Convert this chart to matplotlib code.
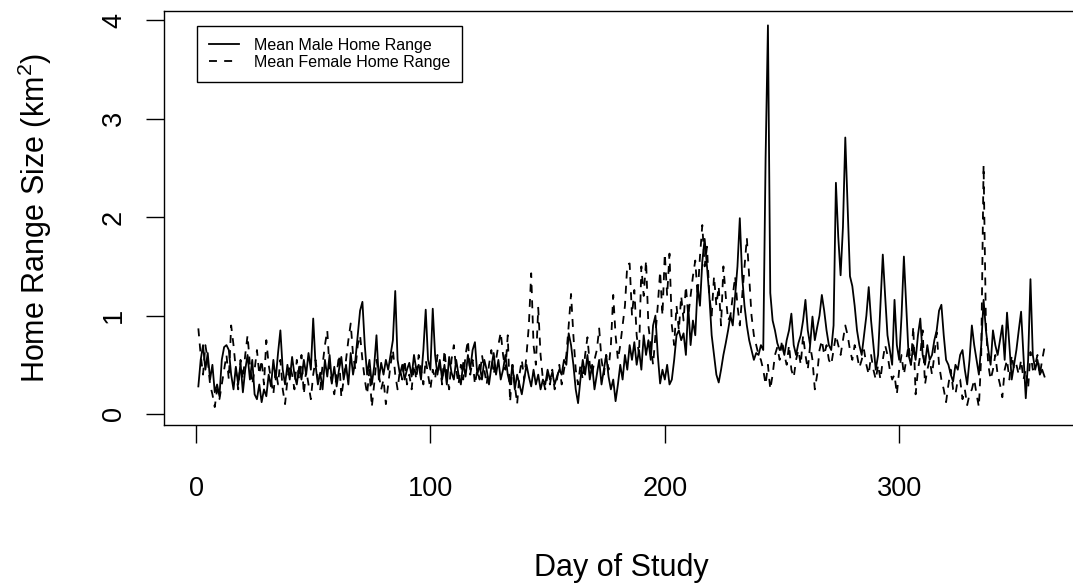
import matplotlib
matplotlib.use("Agg")
import matplotlib.pyplot as plt
import numpy as np

plt.rcParams['font.family'] = ['Liberation Sans', 'DejaVu Sans']
plt.rcParams['mathtext.default'] = 'regular'

male = [
    0.28, 0.55, 0.70, 0.45, 0.62, 0.35, 0.50, 0.22, 0.30, 0.18,
    0.55, 0.68, 0.70, 0.65, 0.40, 0.25, 0.48, 0.30, 0.52, 0.22,
    0.45, 0.60, 0.35, 0.55, 0.20, 0.15, 0.30, 0.12, 0.25, 0.18,
    0.40, 0.28, 0.55, 0.35, 0.62, 0.85, 0.45, 0.30, 0.50, 0.35,
    0.58, 0.40, 0.30, 0.48, 0.35, 0.55, 0.40, 0.62, 0.45, 0.97,
    0.50, 0.30, 0.42, 0.25, 0.55, 0.38, 0.60, 0.32, 0.48, 0.28,
    0.45, 0.58, 0.35, 0.50, 0.30, 0.62, 0.40, 0.55, 0.80, 1.05,
    1.14, 0.70, 0.40, 0.55, 0.30, 0.48, 0.80, 0.35, 0.52, 0.40,
    0.55, 0.45, 0.60, 0.75, 1.25, 0.55, 0.40, 0.50, 0.35, 0.45,
    0.52, 0.38, 0.60, 0.45, 0.50, 0.35, 0.65, 1.06, 0.55, 0.45,
    1.07, 0.60, 0.40, 0.55, 0.35, 0.50, 0.30, 0.58, 0.42, 0.35,
    0.55, 0.40, 0.30, 0.52, 0.38, 0.60, 0.45, 0.65, 0.73, 0.40,
    0.50, 0.35, 0.55, 0.45, 0.30, 0.48, 0.62, 0.40, 0.55, 0.35,
    0.45, 0.60, 0.40, 0.30, 0.50, 0.25, 0.40, 0.30, 0.20, 0.35,
    0.50, 0.38, 0.28, 0.45, 0.30, 0.40, 0.25, 0.35, 0.30, 0.45,
    0.35, 0.42, 0.30, 0.38, 0.45, 0.40, 0.55, 0.50, 0.82, 0.70,
    0.50, 0.25, 0.11, 0.35, 0.55, 0.40, 0.60, 0.35, 0.50, 0.25,
    0.40, 0.55, 0.30, 0.45, 0.60, 0.38, 0.25, 0.35, 0.13, 0.30,
    0.50, 0.35, 0.60, 0.45, 0.70, 0.55, 0.73, 0.50, 0.65, 0.45,
    0.80, 0.60, 0.75, 0.55, 0.90, 1.00, 0.60, 0.31, 0.45, 0.35,
    0.50, 0.30, 0.35, 0.55, 0.80, 0.85, 0.75, 0.82, 0.60, 1.10,
    0.70, 0.95, 0.80, 1.30, 1.10, 1.55, 1.78, 1.50, 1.20, 0.80,
    0.60, 0.40, 0.32, 0.45, 0.60, 0.72, 0.85, 1.00, 0.90, 1.20,
    1.50, 1.99, 1.40, 1.10, 0.90, 0.75, 0.65, 0.55, 0.62, 0.60,
    0.70, 0.65, 2.60, 3.95, 1.23, 0.95, 0.85, 0.72, 0.65, 0.70,
    0.60, 0.75, 0.85, 1.02, 0.70, 0.60, 0.72, 0.80, 0.95, 1.16,
    0.85, 0.70, 0.99, 0.75, 0.88, 1.00, 1.21, 1.05, 0.85, 0.70,
    0.65, 0.90, 2.35, 1.80, 1.41, 1.90, 2.81, 2.10, 1.40, 1.30,
    1.10, 0.85, 0.70, 0.60, 0.80, 1.00, 1.29, 0.95, 0.70, 0.45,
    0.60, 1.10, 1.62, 1.20, 0.80, 0.65, 0.50, 1.16, 0.70, 0.55,
    1.00, 1.60, 1.10, 0.60, 0.50, 0.70, 0.55, 0.80, 0.97, 0.60,
    0.50, 0.70, 0.55, 0.60, 0.75, 0.85, 1.05, 1.11, 0.80, 0.55,
    0.50, 0.40, 0.33, 0.50, 0.45, 0.60, 0.65, 0.45, 0.30, 0.55,
    0.90, 0.70, 0.55, 0.40, 0.70, 1.16, 0.85, 0.65, 0.50, 0.85,
    0.70, 0.60, 0.75, 0.90, 0.55, 1.03, 0.70, 0.35, 0.50, 0.65,
    0.85, 1.04, 0.60, 0.16, 0.55, 1.37, 0.60, 0.45, 0.55, 0.40,
    0.45, 0.38,
]

female = [
    0.87, 0.60, 0.40, 0.70, 0.55, 0.30, 0.20, 0.07, 0.25, 0.15,
    0.30, 0.45, 0.60, 0.35, 0.90, 0.70, 0.45, 0.25, 0.55, 0.35,
    0.60, 0.80, 0.50, 0.30, 0.45, 0.65, 0.40, 0.55, 0.30, 0.75,
    0.50, 0.35, 0.20, 0.45, 0.30, 0.55, 0.25, 0.10, 0.35, 0.50,
    0.40, 0.25, 0.55, 0.35, 0.60, 0.20, 0.45, 0.30, 0.15, 0.40,
    0.55, 0.35, 0.25, 0.50, 0.70, 0.85, 0.45, 0.30, 0.20, 0.40,
    0.60, 0.17, 0.35, 0.55, 0.75, 0.92, 0.60, 0.45, 0.70, 0.80,
    0.55, 0.35, 0.20, 0.45, 0.07, 0.30, 0.55, 0.40, 0.25, 0.35,
    0.10, 0.30, 0.50, 0.65, 0.40, 0.25, 0.45, 0.35, 0.55, 0.30,
    0.40, 0.25, 0.50, 0.35, 0.60, 0.45, 0.30, 0.55, 0.40, 0.25,
    0.45, 0.35, 0.60, 0.50, 0.30, 0.65, 0.40, 0.25, 0.55, 0.70,
    0.45, 0.30, 0.50, 0.35, 0.60, 0.75, 0.40, 0.55, 0.30, 0.45,
    0.35, 0.60, 0.45, 0.30, 0.50, 0.65, 0.40, 0.55, 0.70, 0.83,
    0.60, 0.45, 0.80, 0.12, 0.50, 0.30, 0.10, 0.40, 0.55, 0.35,
    0.60, 0.90, 1.43, 0.70, 0.50, 1.08, 0.60, 0.35, 0.25, 0.40,
    0.30, 0.45, 0.25, 0.35, 0.50, 0.30, 0.45, 0.60, 0.90, 1.22,
    0.80, 0.45, 0.30, 0.50, 0.35, 0.60, 0.78, 0.50, 0.40, 0.55,
    0.65, 0.87, 0.55, 0.40, 0.60, 0.45, 0.70, 1.21, 0.80, 0.55,
    0.70, 0.90, 1.10, 1.52, 1.53, 1.00, 1.26, 0.80, 0.60, 1.50,
    1.20, 1.56, 0.90, 0.70, 0.50, 0.80, 1.10, 1.45, 1.00, 1.63,
    1.20, 1.63, 0.90, 0.70, 1.10, 0.85, 1.20, 0.95, 1.30, 1.00,
    1.20, 1.40, 1.56, 1.20, 1.60, 1.92, 1.50, 1.70, 1.20, 1.00,
    1.40, 1.10, 1.30, 0.90, 1.50, 1.20, 0.95, 1.00, 1.20, 1.40,
    1.10, 0.90, 1.20, 1.50, 1.79, 1.40, 1.00, 0.80, 0.70, 0.60,
    0.55, 0.45, 0.30, 0.50, 0.25, 0.40, 0.60, 0.68, 0.55, 0.75,
    0.60, 0.50, 0.70, 0.45, 0.37, 0.55, 0.65, 0.50, 0.80, 0.60,
    0.45, 0.70, 0.55, 0.25, 0.40, 0.65, 0.75, 0.60, 0.70, 0.55,
    0.50, 0.65, 0.80, 0.70, 0.60, 0.75, 0.90, 0.80, 0.65, 0.55,
    0.70, 0.60, 0.47, 0.55, 0.65, 0.50, 0.40, 0.60, 0.45, 0.35,
    0.50, 0.35, 0.55, 0.70, 0.60, 0.45, 0.35, 0.40, 0.20, 0.45,
    0.60, 0.40, 0.55, 0.70, 0.50, 0.89, 0.20, 0.45, 0.60, 0.85,
    0.30, 0.45, 0.55, 0.40, 0.60, 0.83, 0.50, 0.35, 0.25, 0.12,
    0.30, 0.45, 0.25, 0.20, 0.35, 0.35, 0.15, 0.25, 0.09, 0.20,
    0.25, 0.35, 0.20, 0.07, 0.60, 2.53, 0.90, 0.50, 0.35, 0.45,
    0.60, 0.40, 0.30, 0.17, 0.45, 0.55, 0.35, 0.60, 0.45, 0.50,
    0.40, 0.55, 0.35, 0.45, 0.26, 0.63, 0.45, 0.50, 0.60, 0.40,
    0.55, 0.68,
]

days = np.arange(1, len(male) + 1)
x_ticks = [0, 100, 200, 300]
y_ticks = [0, 1, 2, 3, 4]
legend_labels = ["Mean Male Home Range", "Mean Female Home Range"]

W, H = 1073, 585
fig = plt.figure(figsize=(W / 100, H / 100), dpi=100)

# R-style axis extension (4%)
n = len(days)
span = days[-1] - days[0]
xlim = (days[0] - 0.04 * span, days[-1] + 0.04 * span)
ylim = (-0.112, 4.096)

px_per_day = 2.344
x0_px = 196.0
left_px = x0_px + xlim[0] * px_per_day
right_px = x0_px + xlim[1] * px_per_day
top_px, bottom_px = 11.0, 425.0
ax = fig.add_axes([left_px / W, 1 - bottom_px / H,
                   (right_px - left_px) / W, (bottom_px - top_px) / H])

lw = 1.3
ax.plot(days, male, color='black', lw=lw, linestyle='-', label=legend_labels[0])
ax.plot(days, female, color='black', lw=lw, linestyle=(0, (4.4, 4.0)), label=legend_labels[1])

ax.set_xlim(*xlim)
ax.set_ylim(*ylim)
ax.set_xticks(x_ticks)
ax.set_yticks(y_ticks)
ax.set_xticklabels([str(t) for t in x_ticks])
ax.set_yticklabels([str(t) for t in y_ticks], rotation=90, va='center')

for s in ax.spines.values():
    s.set_linewidth(1.0)
    s.set_color('black')
ax.tick_params(axis='both', length=13, width=1.0, color='black', labelsize=19.5)
ax.tick_params(axis='x', pad=24)
ax.tick_params(axis='y', pad=14)

fig.text(621 / W, 1 - 568 / H, "Day of Study", ha='center', va='center', fontsize=22)
fig.text(35 / W, 1 - 218 / H, "Home Range Size (km$^{2}$)", ha='center', va='center',
         rotation=90, fontsize=22)

leg = ax.legend(loc='upper left', bbox_to_anchor=(197 / W, 1 - 25.7 / H),
                bbox_transform=fig.transFigure, fontsize=11.5, frameon=True,
                fancybox=False, edgecolor='black', framealpha=1,
                handlelength=1.9, handletextpad=0.9, borderpad=0.75,
                labelspacing=0.15, borderaxespad=0)
leg.get_frame().set_linewidth(1.0)

fig.savefig("out.png", dpi=100)
